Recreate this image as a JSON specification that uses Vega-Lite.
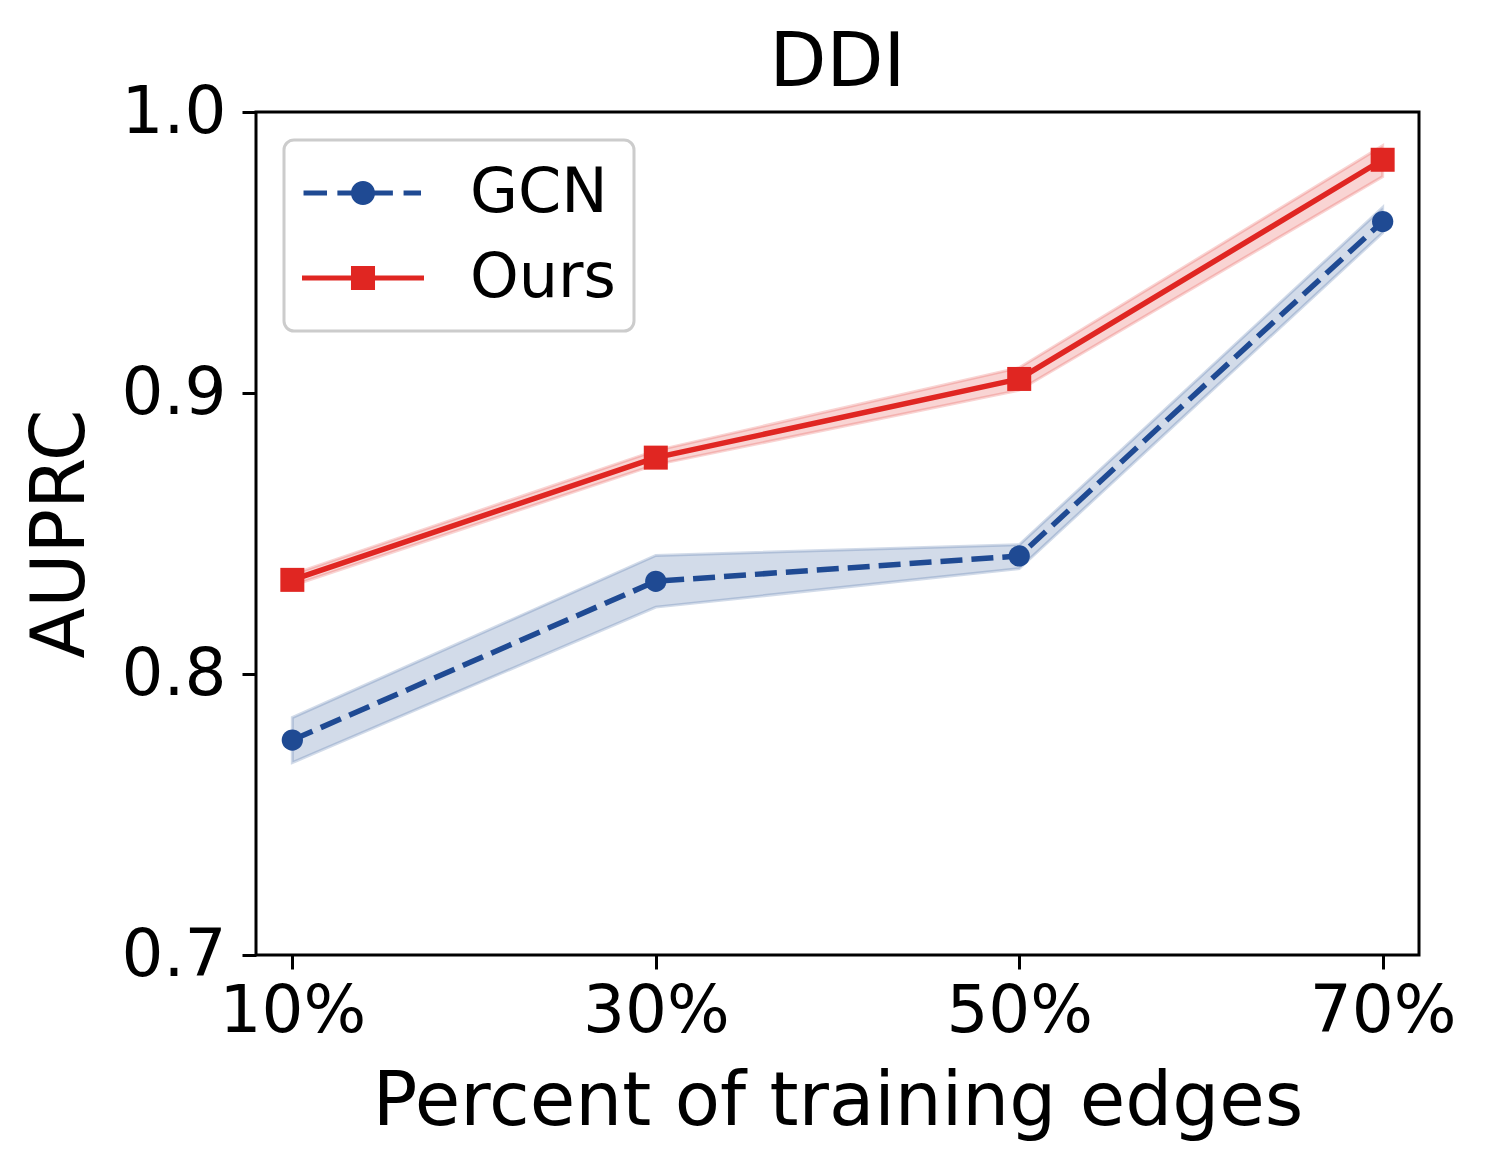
{
  "$schema": "https://vega.github.io/schema/vega-lite/v6.json",
  "autosize": "none",
  "width": 1163,
  "height": 843,
  "padding": {"left": 256, "top": 112, "right": 67, "bottom": 215},
  "background": "white",
  "title": {
    "text": "DDI",
    "fontSize": 74,
    "font": "DejaVu Sans",
    "fontWeight": "normal",
    "color": "black",
    "baseline": "alphabetic",
    "offset": -81
  },
  "config": {
    "font": "DejaVu Sans",
    "view": {"stroke": "black", "strokeWidth": 3},
    "axis": {
      "grid": false,
      "domain": false,
      "tickColor": "black",
      "tickWidth": 3,
      "tickSize": 14,
      "labelFont": "DejaVu Sans",
      "labelFontSize": 66,
      "labelColor": "black",
      "titleFont": "DejaVu Sans",
      "titleFontSize": 74,
      "titleFontWeight": "normal",
      "titleColor": "black"
    }
  },
  "data": {
    "values": [
      {"series": "GCN", "pct": 10, "auprc": 0.7765, "lo": 0.7685, "hi": 0.7845},
      {"series": "GCN", "pct": 30, "auprc": 0.833, "lo": 0.8238, "hi": 0.8422},
      {"series": "GCN", "pct": 50, "auprc": 0.842, "lo": 0.8375, "hi": 0.846},
      {"series": "GCN", "pct": 70, "auprc": 0.961, "lo": 0.957, "hi": 0.966},
      {"series": "Ours", "pct": 10, "auprc": 0.8335, "lo": 0.8315, "hi": 0.8355},
      {"series": "Ours", "pct": 30, "auprc": 0.877, "lo": 0.8745, "hi": 0.8795},
      {"series": "Ours", "pct": 50, "auprc": 0.905, "lo": 0.901, "hi": 0.909},
      {"series": "Ours", "pct": 70, "auprc": 0.983, "lo": 0.977, "hi": 0.988}
    ]
  },
  "encoding": {
    "x": {
      "field": "pct",
      "type": "quantitative",
      "scale": {"domain": [8, 72], "nice": false, "zero": false},
      "axis": {
        "values": [10, 30, 50, 70],
        "labelExpr": "datum.value + '%'",
        "labelPadding": 10,
        "titlePadding": 22,
        "title": "Percent of training edges"
      }
    },
    "color": {
      "field": "series",
      "type": "nominal",
      "scale": {"domain": ["GCN", "Ours"], "range": ["#1f4a93", "#e02622"]},
      "legend": {
        "title": null,
        "orient": "top-left",
        "offset": 28,
        "padding": 18,
        "fillColor": "white",
        "strokeColor": "#cccccc",
        "cornerRadius": 10,
        "symbolSize": 14884,
        "symbolStrokeWidth": 0,
        "clipHeight": 70,
        "rowPadding": 15,
        "labelFont": "DejaVu Sans",
        "labelFontSize": 62,
        "labelColor": "black",
        "labelOffset": 46,
        "encode": {
          "legend": {
            "update": {"strokeWidth": {"value": 3}}
          },
          "symbols": {
            "update": {
              "shape": {"signal": "datum.value === 'GCN' ? 'M-0.975,-0.041H-0.59V0.041H-0.975Z M-0.42,-0.041H0.49V0.041H-0.42Z M0.665,-0.041H0.951V0.041H0.665Z M-0.197,0A0.197,0.197,0,1,1,0.197,0A0.197,0.197,0,1,1,-0.197,0Z' : 'M-1,-0.041H1V0.041H-1Z M-0.197,-0.197H0.197V0.197H-0.197Z'"},
              "size": {"value": 14884},
              "fill": {"signal": "datum.value === 'GCN' ? '#1f4a93' : '#e02622'"},
              "stroke": {"value": "transparent"},
              "strokeWidth": {"value": 0},
              "strokeDash": {"value": []},
              "opacity": {"value": 1},
              "fillOpacity": {"value": 1}
            }
          }
        }
      }
    }
  },
  "layer": [
    {
      "mark": {"type": "area", "fillOpacity": 0.2, "strokeOpacity": 0.2, "strokeWidth": 3},
      "encoding": {
        "y": {"field": "lo", "type": "quantitative"},
        "y2": {"field": "hi"},
        "stroke": {
          "field": "series",
          "type": "nominal",
          "scale": {"domain": ["GCN", "Ours"], "range": ["#1f4a93", "#e02622"]},
          "legend": null
        }
      }
    },
    {
      "transform": [{"filter": "datum.series === 'GCN'"}],
      "mark": {"type": "line", "strokeWidth": 5.5, "strokeDash": [22, 9]},
      "encoding": {
        "y": {
          "field": "auprc",
          "type": "quantitative",
          "scale": {"domain": [0.7, 1.0], "nice": false, "zero": false},
          "axis": {
            "values": [0.7, 0.8, 0.9, 1.0],
            "format": ".1f",
            "labelPadding": 16,
            "titlePadding": 22,
            "title": "AUPRC"
          }
        }
      }
    },
    {
      "transform": [{"filter": "datum.series === 'Ours'"}],
      "mark": {"type": "line", "strokeWidth": 5.5},
      "encoding": {
        "y": {"field": "auprc", "type": "quantitative"}
      }
    },
    {
      "transform": [{"filter": "datum.series === 'GCN'"}],
      "mark": {"type": "point", "filled": true, "opacity": 1, "shape": "circle", "size": 452},
      "encoding": {
        "y": {"field": "auprc", "type": "quantitative"}
      }
    },
    {
      "transform": [{"filter": "datum.series === 'Ours'"}],
      "mark": {"type": "point", "filled": true, "opacity": 1, "shape": "square", "size": 576},
      "encoding": {
        "y": {"field": "auprc", "type": "quantitative"}
      }
    }
  ]
}
